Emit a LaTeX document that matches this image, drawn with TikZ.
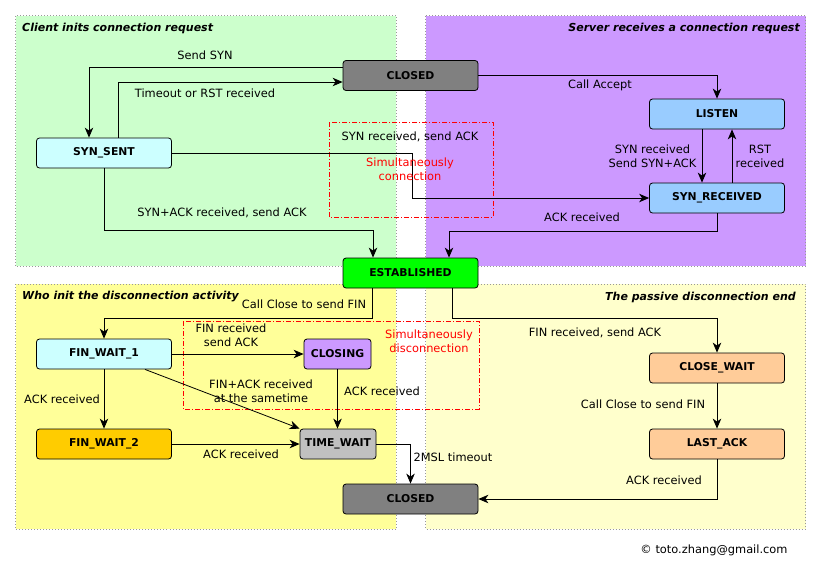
\documentclass[tikz,border=0pt]{standalone}
\usepackage{fontspec}
\setmainfont{DejaVu Sans}
\usetikzlibrary{arrows.meta,calc}
\definecolor{rgreen}{HTML}{CCFFCC}
\definecolor{rpurple}{HTML}{CC99FF}
\definecolor{ryellow}{HTML}{FFFF99}
\definecolor{rlyellow}{HTML}{FFFFCC}
\definecolor{ngray}{HTML}{808080}
\definecolor{nlgray}{HTML}{C0C0C0}
\definecolor{ncyan}{HTML}{CCFFFF}
\definecolor{nblue}{HTML}{99CCFF}
\definecolor{ngreen}{HTML}{00FF00}
\definecolor{norange}{HTML}{FFCC00}
\definecolor{npeach}{HTML}{FFCC99}
\definecolor{npurple}{HTML}{CC99FF}
\definecolor{dotgray}{HTML}{999999}
\definecolor{simred}{HTML}{FF0000}
\begin{document}
\begin{tikzpicture}[x=1pt,y=-1pt,
  region/.style={draw=dotgray, line width=0.8pt, dash pattern=on 0.8pt off 2.2pt},
  simbox/.style={draw=simred, line width=0.8pt, dash pattern=on 5pt off 2pt on 1pt off 2pt},
  st/.style={draw=black, line width=0.8pt, rounded corners=3pt, minimum height=30pt, minimum width=135pt, inner sep=0pt, font=\fontsize{10.8}{13}\selectfont\bfseries},
  lbl/.style={inner sep=0pt, align=center, font=\fontsize{11.4}{14}\selectfont},
  redlbl/.style={lbl, text=simred},
  ttl/.style={inner sep=0pt, font=\fontsize{11}{13}\selectfont\bfseries\itshape},
  arr/.style={draw=black, line width=0.8pt, -{Stealth[length=10pt,width=8.5pt,inset=3pt]}}
]
\useasboundingbox (0,0) rectangle (821,576);
% regions
\fill[rgreen] (15.5,15.5) rectangle (396,266);
\draw[region] (15.5,15.5) rectangle (396,266);
\fill[rpurple] (425.5,15.5) rectangle (805.5,266);
\draw[region] (425.5,15.5) rectangle (805.5,266);
\fill[ryellow] (15.5,284) rectangle (396,529);
\draw[region] (15.5,284) rectangle (396,529);
\fill[rlyellow] (425.5,284) rectangle (805.5,529);
\draw[region] (425.5,284) rectangle (805.5,529);
% titles
\node[ttl, anchor=west] (t1) at (22,28.5) {Client inits connection request};
\node[ttl, anchor=east] (t2) at (800,28.5) {Server receives a connection request};
\node[ttl, anchor=west] (t3) at (22,297) {Who init the disconnection activity};
\node[ttl, anchor=east] (t4) at (796,297) {The passive disconnection end};
% simultaneous boxes
\draw[simbox] (329,122) rectangle (493,217);
\draw[simbox] (183,321) rectangle (479,409);
% states
\node[st, fill=ngray] (closed1) at (410.5,75.5) {CLOSED};
\node[st, fill=ncyan] (synsent) at (104,153) {SYN\_SENT};
\node[st, fill=nblue] (listen) at (717,114) {LISTEN};
\node[st, fill=nblue] (synrec) at (717,198) {SYN\_RECEIVED};
\node[st, fill=ngreen] (est) at (410.5,273) {ESTABLISHED};
\node[st, fill=ncyan] (fw1) at (104,354) {FIN\_WAIT\_1};
\node[st, fill=npurple, minimum width=67pt] (closing) at (337.5,354) {CLOSING};
\node[st, fill=norange] (fw2) at (104,444) {FIN\_WAIT\_2};
\node[st, fill=nlgray, minimum width=76pt] (tw) at (338,444) {TIME\_WAIT};
\node[st, fill=ngray] (closed2) at (410.5,499) {CLOSED};
\node[st, fill=npeach] (cw) at (717,368) {CLOSE\_WAIT};
\node[st, fill=npeach] (la) at (717,444) {LAST\_ACK};
% helper coordinates
\coordinate (c3) at (412,153);
\coordinate (c4) at (104,230);
\coordinate (c8) at (717,231);
\coordinate (c9) at (372,318);
\coordinate (c10) at (452,318);
% connectors
\draw[arr] ([yshift=8.5pt]closed1.west) -| ([xshift=-15pt]synsent.north);
\draw[arr] ([xshift=14pt]synsent.north) |- ([yshift=-6.5pt]closed1.west);
\draw[arr] (synsent.east) -- (c3) |- (synrec.west);
\draw[arr] (synsent.south) -- (c4) -| ([xshift=-37.5pt]est.north);
\draw[arr] (closed1.east) -| (listen.north);
\draw[arr] ([xshift=-15pt]listen.south) -- ([xshift=-15pt]synrec.north);
\draw[arr] ([xshift=15pt]synrec.north) -- ([xshift=15pt]listen.south);
\draw[arr] (synrec.south) -- (c8) -| ([xshift=38.5pt]est.north);
\draw[arr] ([xshift=-38.5pt]est.south) -- (c9) -| (fw1.north);
\draw[arr] ([xshift=41.5pt]est.south) -- (c10) -| (cw.north);
\draw[arr] (fw1.east) -- (closing.west);
\draw[arr] ([xshift=41pt]fw1.south) -- (tw.north west);
\draw[arr] (fw1.south) -- (fw2.north);
\draw[arr] (closing.south) -- (closing.south |- tw.north);
\draw[arr] (fw2.east) -- (tw.west);
\draw[arr] (tw.east) -| (closed2.north);
\draw[arr] (cw.south) -- (la.north);
\draw[arr] (la.south) |- (closed2.east);
% labels
\node[lbl] (l1) at (205,55) {Send SYN};
\node[lbl] (l2) at (205,93) {Timeout or RST received};
\node[lbl] (l3) at (410,137) {SYN received, send ACK};
\node[redlbl] (l4) at (410,169.5) {Simultaneously\\connection};
\node[lbl] (l5) at (222,213) {SYN+ACK received, send ACK};
\node[lbl] (l6) at (600,85) {Call Accept};
\node[lbl] (l7) at (652.5,156) {SYN received\\Send SYN+ACK};
\node[lbl] (l8) at (760,156) {RST\\received};
\node[lbl] (l9) at (582,217) {ACK received};
\node[lbl] (l10) at (304,304) {Call Close to send FIN};
\node[lbl] (l11) at (595,333) {FIN received, send ACK};
\node[redlbl] (l12) at (429,341) {Simultaneously\\disconnection};
\node[lbl] (l13) at (231,335.5) {FIN received\\send ACK};
\node[lbl] (l14) at (261,391) {FIN+ACK received\\at the sametime};
\node[lbl] (l15) at (62,399) {ACK received};
\node[lbl] (l16) at (382,391) {ACK received};
\node[lbl] (l17) at (241,454) {ACK received};
\node[lbl] (l18) at (453,457) {2MSL timeout};
\node[lbl] (l19) at (643,404) {Call Close to send FIN};
\node[lbl] (l20) at (664,480) {ACK received};
\node[lbl] (l21) at (714,550) {© toto.zhang@gmail.com};
\end{tikzpicture}
\end{document}
